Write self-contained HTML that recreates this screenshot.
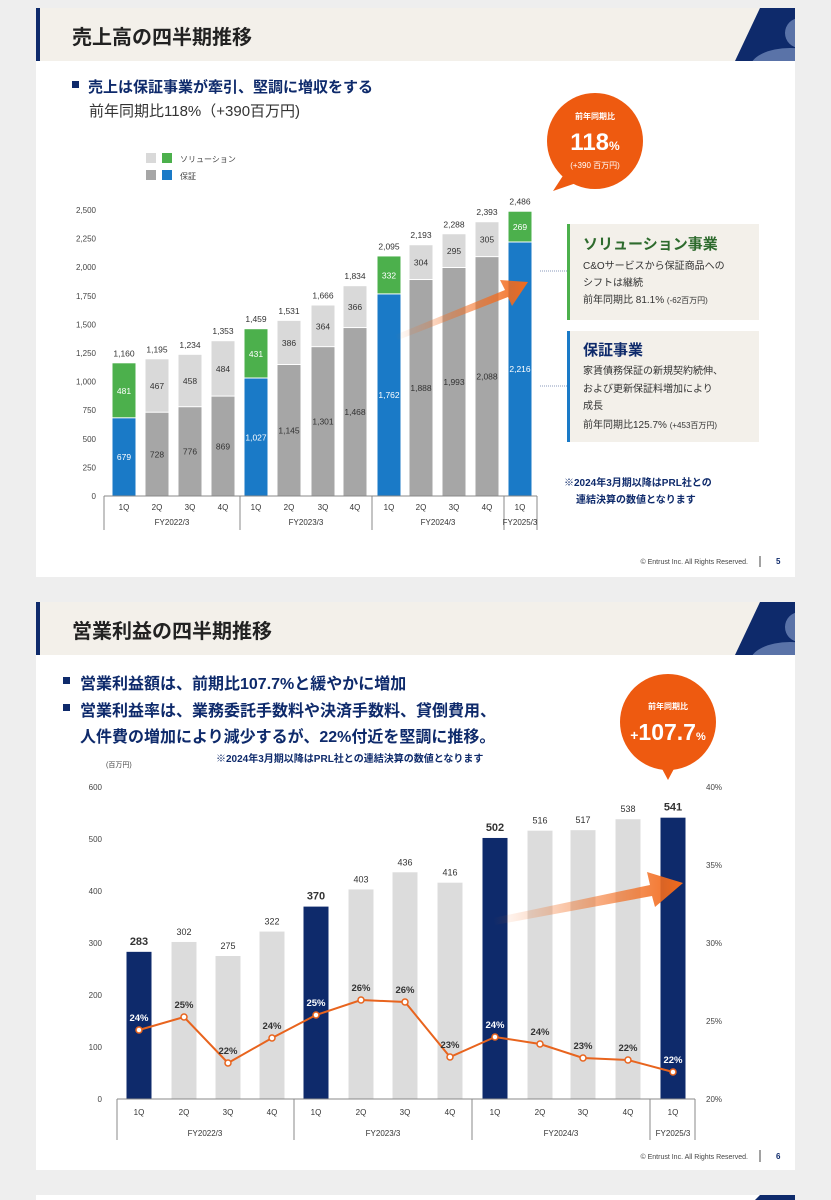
<!DOCTYPE html>
<html><head><meta charset="utf-8"><style>
body{margin:0;width:831px;height:1200px;background:#eeeeee;overflow:hidden;font-family:"Liberation Sans","Noto Sans CJK JP",sans-serif}
svg{position:absolute;left:0;top:0}
</style></head><body>
<svg id="s" width="831" height="1200" xmlns="http://www.w3.org/2000/svg" font-family="Liberation Sans, Noto Sans CJK JP, sans-serif">
<defs>
<linearGradient id="ag" x1="0" x2="1" y1="0" y2="0"><stop offset="0" stop-color="#f26b1d" stop-opacity="0"/><stop offset="1" stop-color="#f26b1d"/></linearGradient>
<clipPath id="k1"><polygon points="760,8 795,8 795,61 735,61"/></clipPath>
<clipPath id="k2"><polygon points="760,602 795,602 795,655 735,655"/></clipPath>
</defs>
<!-- slide 1 -->
<rect x="36" y="8" width="759" height="569" fill="#fff"/>
<rect x="36" y="8" width="759" height="53" fill="#f3f0ea"/>
<rect x="36" y="8" width="4" height="53" fill="#0e2a6b"/>
<polygon points="760,8 795,8 795,61 735,61" fill="#0e2a6b"/>
<g clip-path="url(#k1)"><circle cx="800" cy="33" r="15" fill="#5a73a8"/><ellipse cx="790" cy="68" rx="40" ry="20" fill="#5a73a8"/></g>
<text x="72" y="44" font-size="20" font-weight="bold" fill="#222">売上高の四半期推移</text>
<rect x="72" y="81" width="7" height="7" fill="#0e2a6b"/>
<text x="88" y="92" font-size="15" font-weight="bold" fill="#0e2a6b">売上は保証事業が牽引、堅調に増収をする</text>
<text x="89" y="116" font-size="15" fill="#333">前年同期比118%（+390百万円)</text>
<rect x="146" y="153" width="10" height="10" fill="#d9d9d9"/><rect x="162" y="153" width="10" height="10" fill="#4cb04c"/>
<text x="180" y="162" font-size="8" fill="#444">ソリューション</text>
<rect x="146" y="170" width="10" height="10" fill="#a6a6a6"/><rect x="162" y="170" width="10" height="10" fill="#1a7ac7"/>
<text x="180" y="179" font-size="8" fill="#444">保証</text>
<path d="M553,191 L568,168 L585,180 Z" fill="#ee5a10"/>
<circle cx="595" cy="141" r="48" fill="#ee5a10"/>
<text x="595" y="119" font-size="8" fill="#fff" text-anchor="middle" font-weight="bold">前年同期比</text>
<text x="595" y="150" font-size="24" fill="#fff" text-anchor="middle" font-weight="bold">118<tspan font-size="12">%</tspan></text>
<text x="595" y="168" font-size="8" fill="#fff" text-anchor="middle">(+390 百万円)</text>
<rect x="567" y="224" width="192" height="96" fill="#f3f0ea"/><rect x="567" y="224" width="3" height="96" fill="#4cb04c"/>
<text x="583" y="249" font-size="15" font-weight="bold" fill="#2e6b2e">ソリューション事業</text>
<text x="583" y="269" font-size="10" fill="#333">C&amp;Oサービスから保証商品への</text>
<text x="583" y="286" font-size="10" fill="#333">シフトは継続</text>
<text x="583" y="303" font-size="10" fill="#333">前年同期比 81.1% <tspan font-size="8">(-62百万円)</tspan></text>
<rect x="567" y="331" width="192" height="111" fill="#f3f0ea"/><rect x="567" y="331" width="3" height="111" fill="#1a7ac7"/>
<text x="583" y="355" font-size="15" font-weight="bold" fill="#0e2a6b">保証事業</text>
<text x="583" y="374" font-size="10" fill="#333">家賃債務保証の新規契約続伸、</text>
<text x="583" y="392" font-size="10" fill="#333">および更新保証料増加により</text>
<text x="583" y="409" font-size="10" fill="#333">成長</text>
<text x="583" y="428" font-size="10" fill="#333">前年同期比125.7% <tspan font-size="8">(+453百万円)</tspan></text>
<line x1="540" y1="271" x2="567" y2="271" stroke="#8899bb" stroke-dasharray="1,1"/>
<line x1="540" y1="386" x2="567" y2="386" stroke="#8899bb" stroke-dasharray="1,1"/>
<text x="564" y="486" font-size="10" font-weight="bold" fill="#0e2a6b">※2024年3月期以降はPRL社との</text>
<text x="576" y="503" font-size="10" font-weight="bold" fill="#0e2a6b">連結決算の数値となります</text>
<text x="748" y="564" font-size="7" fill="#444" text-anchor="end">© Entrust Inc. All Rights Reserved.</text>
<line x1="760" y1="556" x2="760" y2="567" stroke="#444"/>
<text x="776" y="564" font-size="8" font-weight="bold" fill="#0e2a6b">5</text>
<g id="c1"></g>
<!-- slide 2 -->
<rect x="36" y="602" width="759" height="568" fill="#fff"/>
<rect x="36" y="602" width="759" height="53" fill="#f3f0ea"/>
<rect x="36" y="602" width="4" height="53" fill="#0e2a6b"/>
<polygon points="760,602 795,602 795,655 735,655" fill="#0e2a6b"/>
<g clip-path="url(#k2)"><circle cx="800" cy="627" r="15" fill="#5a73a8"/><ellipse cx="790" cy="662" rx="40" ry="20" fill="#5a73a8"/></g>
<text x="72" y="638" font-size="20" font-weight="bold" fill="#222">営業利益の四半期推移</text>
<rect x="63" y="677" width="7" height="7" fill="#0e2a6b"/>
<text x="80" y="689" font-size="16" font-weight="bold" fill="#0e2a6b">営業利益額は、前期比107.7%と緩やかに増加</text>
<rect x="63" y="704" width="7" height="7" fill="#0e2a6b"/>
<text x="80" y="716" font-size="16" font-weight="bold" fill="#0e2a6b">営業利益率は、業務委託手数料や決済手数料、貸倒費用、</text>
<text x="80" y="742" font-size="16" font-weight="bold" fill="#0e2a6b">人件費の増加により減少するが、22%付近を堅調に推移。</text>
<text x="216" y="762" font-size="10" font-weight="bold" fill="#0e2a6b">※2024年3月期以降はPRL社との連結決算の数値となります</text>
<text x="106" y="767" font-size="7" fill="#444">(百万円)</text>
<path d="M660,765 L668,780 L676,765 Z" fill="#ee5a10"/>
<circle cx="668" cy="722" r="48" fill="#ee5a10"/>
<text x="668" y="709" font-size="8" fill="#fff" text-anchor="middle" font-weight="bold">前年同期比</text>
<text x="668" y="740" font-size="23" fill="#fff" text-anchor="middle" font-weight="bold"><tspan font-size="14">+</tspan>107.7<tspan font-size="11">%</tspan></text>
<text x="748" y="1159" font-size="7" fill="#444" text-anchor="end">© Entrust Inc. All Rights Reserved.</text>
<line x1="760" y1="1150" x2="760" y2="1162" stroke="#444"/>
<text x="776" y="1159" font-size="8" font-weight="bold" fill="#0e2a6b">6</text>
<g id="c2"></g>
<rect x="36" y="1195" width="759" height="5" fill="#fff"/>
<polygon points="760,1195 795,1195 795,1200 755,1200" fill="#0e2a6b"/>
</svg>
<script>
const NS="http://www.w3.org/2000/svg";
function el(p,t,a,txt){const e=document.createElementNS(NS,t);for(const k in a)e.setAttribute(k,a[k]);if(txt!==undefined)e.textContent=txt;p.appendChild(e);return e;}
const g1=document.getElementById('c1');
const b=[679,728,776,869,1027,1145,1301,1468,1762,1888,1993,2088,2216];
const t=[481,467,458,484,431,386,364,366,332,304,295,305,269];
const tots=[1160,1195,1234,1353,1459,1531,1666,1834,2095,2193,2288,2393,2486];
const xs1=[124,157,190,223,256,289,323,355,389,421,454,487,520];
const Y1=v=>496-v*0.1144;
for(let i=0;i<=10;i++){const v=i*250;el(g1,'text',{x:96,y:Y1(v)+3,'font-size':8,fill:'#444','text-anchor':'end'},v.toLocaleString('en-US'));}
xs1.forEach((x,i)=>{const blue=(i%4==0);const tot=b[i]+t[i];
el(g1,'rect',{x:x-11.5,y:Y1(b[i]),width:23,height:b[i]*0.1144,fill:blue?'#1a7ac7':'#a6a6a6'});
el(g1,'rect',{x:x-11.5,y:Y1(tot),width:23,height:t[i]*0.1144-1,fill:blue?'#4cb04c':'#d9d9d9'});
el(g1,'text',{x:x,y:Y1(b[i]/2)+3,'font-size':8.5,fill:blue?'#fff':'#333','text-anchor':'middle'},b[i].toLocaleString('en-US'));
el(g1,'text',{x:x,y:Y1(b[i]+t[i]/2)+3,'font-size':8.5,fill:blue?'#fff':'#333','text-anchor':'middle'},t[i]);
el(g1,'text',{x:x,y:Y1(tot)-7,'font-size':8.5,fill:'#333','text-anchor':'middle'},tots[i].toLocaleString('en-US'));
el(g1,'text',{x:x,y:510,'font-size':8,fill:'#333','text-anchor':'middle'},['1Q','2Q','3Q','4Q'][i%4]);});
el(g1,'line',{x1:104,y1:496,x2:537,y2:496,stroke:'#888'});
[104,240,372,504,537].forEach(x=>el(g1,'line',{x1:x,y1:496,x2:x,y2:530,stroke:'#888'}));
[['FY2022/3',172],['FY2023/3',306],['FY2024/3',438],['FY2025/3',520]].forEach(a=>el(g1,'text',{x:a[1],y:525,'font-size':8,fill:'#333','text-anchor':'middle'},a[0]));
el(g1,'polygon',{points:'395,335 505,290 500,280 528,282 512,306 508,297 398,340',fill:'url(#ag)'});
const g2=document.getElementById('c2');
const v2=[283,302,275,322,370,403,436,416,502,516,517,538,541];
const r2=[24,25,22,24,25,26,26,23,24,24,23,22,22];
const py=[1030,1017,1063,1038,1015,1000,1002,1057,1037,1044,1058,1060,1072];
const xs2=[139,184,228,272,316,361,405,450,495,540,583,628,673];
const Y2=v=>1099-v*0.52;
for(let i=0;i<=6;i++){const v=i*100;el(g2,'text',{x:102,y:Y2(v)+3,'font-size':8,fill:'#444','text-anchor':'end'},v);}
for(let i=0;i<=4;i++){el(g2,'text',{x:706,y:1099-i*78+3,'font-size':8,fill:'#444'},(20+i*5)+'%');}
xs2.forEach((x,i)=>{const n=(i%4==0);
el(g2,'rect',{x:x-12.5,y:Y2(v2[i]),width:25,height:v2[i]*0.52,fill:n?'#0e2a6b':'#dcdcdc'});
el(g2,'text',{x:x,y:Y2(v2[i])-7,'font-size':n?11:9,'font-weight':n?'bold':'normal',fill:'#333','text-anchor':'middle'},v2[i]);
el(g2,'text',{x:x,y:1115,'font-size':8,fill:'#333','text-anchor':'middle'},['1Q','2Q','3Q','4Q'][i%4]);});
el(g2,'polyline',{points:xs2.map((x,i)=>x+','+py[i]).join(' '),fill:'none',stroke:'#e8641e','stroke-width':2});
xs2.forEach((x,i)=>{el(g2,'circle',{cx:x,cy:py[i],r:3,fill:'#fff',stroke:'#e8641e','stroke-width':1.5});
el(g2,'text',{x:x,y:py[i]-9,'font-size':9.5,'font-weight':'bold',fill:i%4==0?'#fff':'#333','text-anchor':'middle'},r2[i]+'%');});
el(g2,'line',{x1:117,y1:1099,x2:695,y2:1099,stroke:'#888'});
[117,294,472,650,695].forEach(x=>el(g2,'line',{x1:x,y1:1099,x2:x,y2:1140,stroke:'#888'}));
[['FY2022/3',205],['FY2023/3',383],['FY2024/3',561],['FY2025/3',673]].forEach(a=>el(g2,'text',{x:a[1],y:1136,'font-size':8,fill:'#333','text-anchor':'middle'},a[0]));
el(g2,'polygon',{points:'493,918 650,885 647,872 683,883 655,907 652,896 495,925',fill:'url(#ag)'});
</script>
</body></html>
